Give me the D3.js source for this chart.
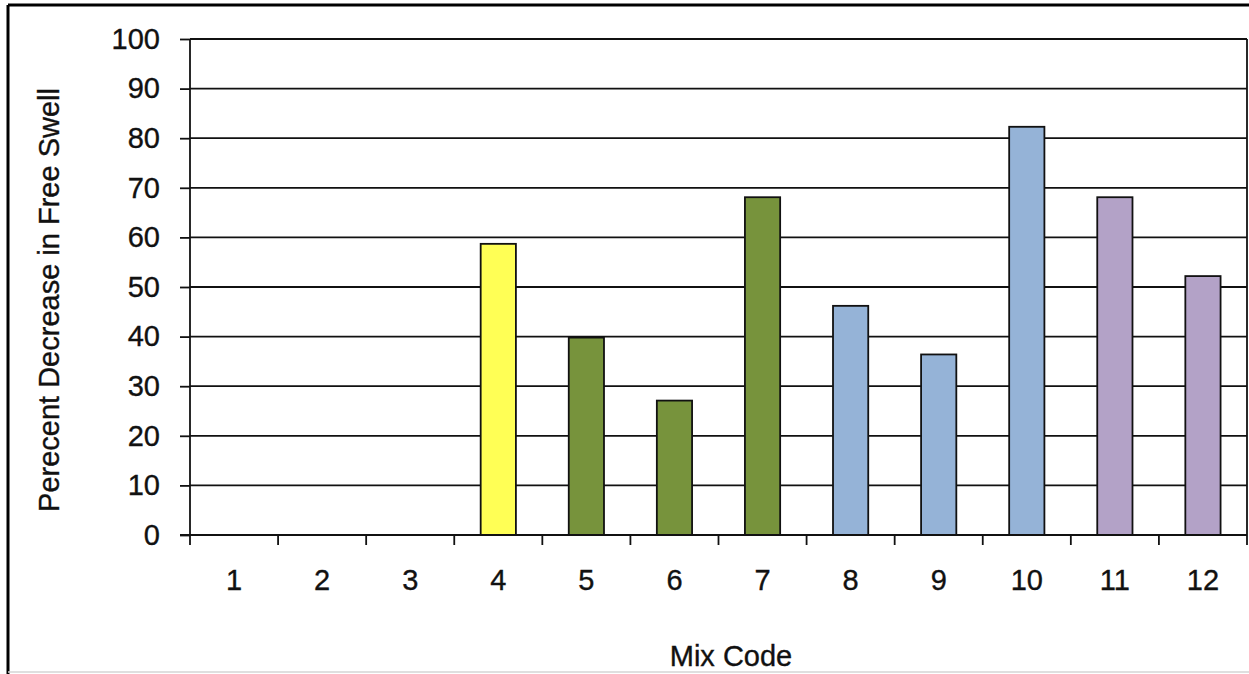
<!DOCTYPE html>
<html>
<head>
<meta charset="utf-8">
<script src="https://cdn.jsdelivr.net/npm/d3@7"></script>
<style>
  html, body { margin: 0; padding: 0; background: #fff; }
  svg { display: block; }
  text { font-family: "Liberation Sans", Arial, sans-serif; fill: #111; stroke: #111; stroke-width: 0.35px; }
</style>
</head>
<body>
<svg id="chart" width="1249" height="674"></svg>
<script>
// Mix codes and the percent decrease in free swell for each mix
const mixCodes = ["1", "2", "3", "4", "5", "6", "7", "8", "9", "10", "11", "12"];
const swellDecrease = [0, 0, 0, 58.7, 39.8, 27.1, 68.1, 46.2, 36.4, 82.3, 68.1, 52.2];
const barColors = ["#ffff55", "#ffff55", "#ffff55", "#ffff55",
                   "#77933c", "#77933c", "#77933c",
                   "#95b3d7", "#95b3d7", "#95b3d7",
                   "#b3a2c7", "#b3a2c7"];
const yTicks = [0, 10, 20, 30, 40, 50, 60, 70, 80, 90, 100];
const yTitle = "Perecent Decrease in Free Swell";
const xTitle = "Mix Code";

const svg = d3.select("#chart");
const W = 1249, H = 674;
const plot = { left: 190, right: 1247, top: 39, bottom: 535 };
const FONT = 29;
const LINE = 1.8;

// outer frame
svg.append("line").attr("x1", 8).attr("x2", W).attr("y1", 5).attr("y2", 5)
  .attr("stroke", "#000").attr("stroke-width", 3);
svg.append("line").attr("x1", 8).attr("x2", 8).attr("y1", 5).attr("y2", H)
  .attr("stroke", "#000").attr("stroke-width", 3);
svg.append("line").attr("x1", 8).attr("x2", W).attr("y1", 672).attr("y2", 672)
  .attr("stroke", "#d4d4d4").attr("stroke-width", 1.5);

const x = d3.scaleBand().domain(mixCodes).range([plot.left, plot.right]).padding(0);
const y = d3.scaleLinear().domain([0, 100]).range([plot.bottom, plot.top]);

// horizontal gridlines
svg.append("g").selectAll("line").data(yTicks.filter(d => d > 0)).join("line")
  .attr("x1", plot.left).attr("x2", plot.right)
  .attr("y1", d => y(d)).attr("y2", d => y(d))
  .attr("stroke", "#111").attr("stroke-width", LINE);

// right edge of the plot area
svg.append("line").attr("x1", plot.right).attr("x2", plot.right)
  .attr("y1", plot.top).attr("y2", plot.bottom)
  .attr("stroke", "#111").attr("stroke-width", LINE);

// bars
const barW = x.bandwidth() * 0.4;
svg.append("g").selectAll("rect").data(mixCodes).join("rect")
  .attr("x", (d) => x(d) + (x.bandwidth() - barW) / 2)
  .attr("width", barW)
  .attr("y", (d, i) => y(swellDecrease[i]))
  .attr("height", (d, i) => y(0) - y(swellDecrease[i]))
  .attr("fill", (d, i) => barColors[i])
  .attr("stroke", "#111").attr("stroke-width", LINE)
  .attr("display", (d, i) => swellDecrease[i] > 0 ? null : "none");

// y axis
const yAxis = svg.append("g").attr("transform", `translate(${plot.left},0)`)
  .call(d3.axisLeft(y).tickValues(yTicks).tickSize(10).tickPadding(20).tickFormat(d3.format("d")));
yAxis.select(".domain").attr("d", `M0,${plot.top}V${plot.bottom + 10}`)
  .attr("stroke", "#111").attr("stroke-width", LINE);
yAxis.selectAll(".tick line").attr("stroke", "#111").attr("stroke-width", LINE);
yAxis.selectAll(".tick text").style("font-size", FONT + "px")
  .style("font-family", "'Liberation Sans', Arial, sans-serif");

// x axis: labels centred in each band, tick marks on band boundaries
const xAxis = svg.append("g").attr("transform", `translate(0,${plot.bottom})`)
  .call(d3.axisBottom(x).tickSize(0).tickPadding(34));
xAxis.select(".domain").attr("d", `M${plot.left - 10},0H${plot.right}`)
  .attr("stroke", "#111").attr("stroke-width", LINE);
xAxis.selectAll(".tick text").style("font-size", FONT + "px")
  .style("font-family", "'Liberation Sans', Arial, sans-serif");

const boundaries = mixCodes.map(d => x(d)).concat([plot.right]);
xAxis.append("g").selectAll("line").data(boundaries.slice(1)).join("line")
  .attr("x1", d => d).attr("x2", d => d).attr("y1", 0).attr("y2", 10)
  .attr("stroke", "#111").attr("stroke-width", LINE);

// axis titles
svg.append("text")
  .attr("transform", `translate(59,300) rotate(-90)`)
  .attr("text-anchor", "middle")
  .style("font-size", FONT + "px")
  .text(yTitle);

svg.append("text")
  .attr("x", 731).attr("y", 666)
  .attr("text-anchor", "middle")
  .style("font-size", FONT + "px")
  .text(xTitle);
</script>
</body>
</html>
